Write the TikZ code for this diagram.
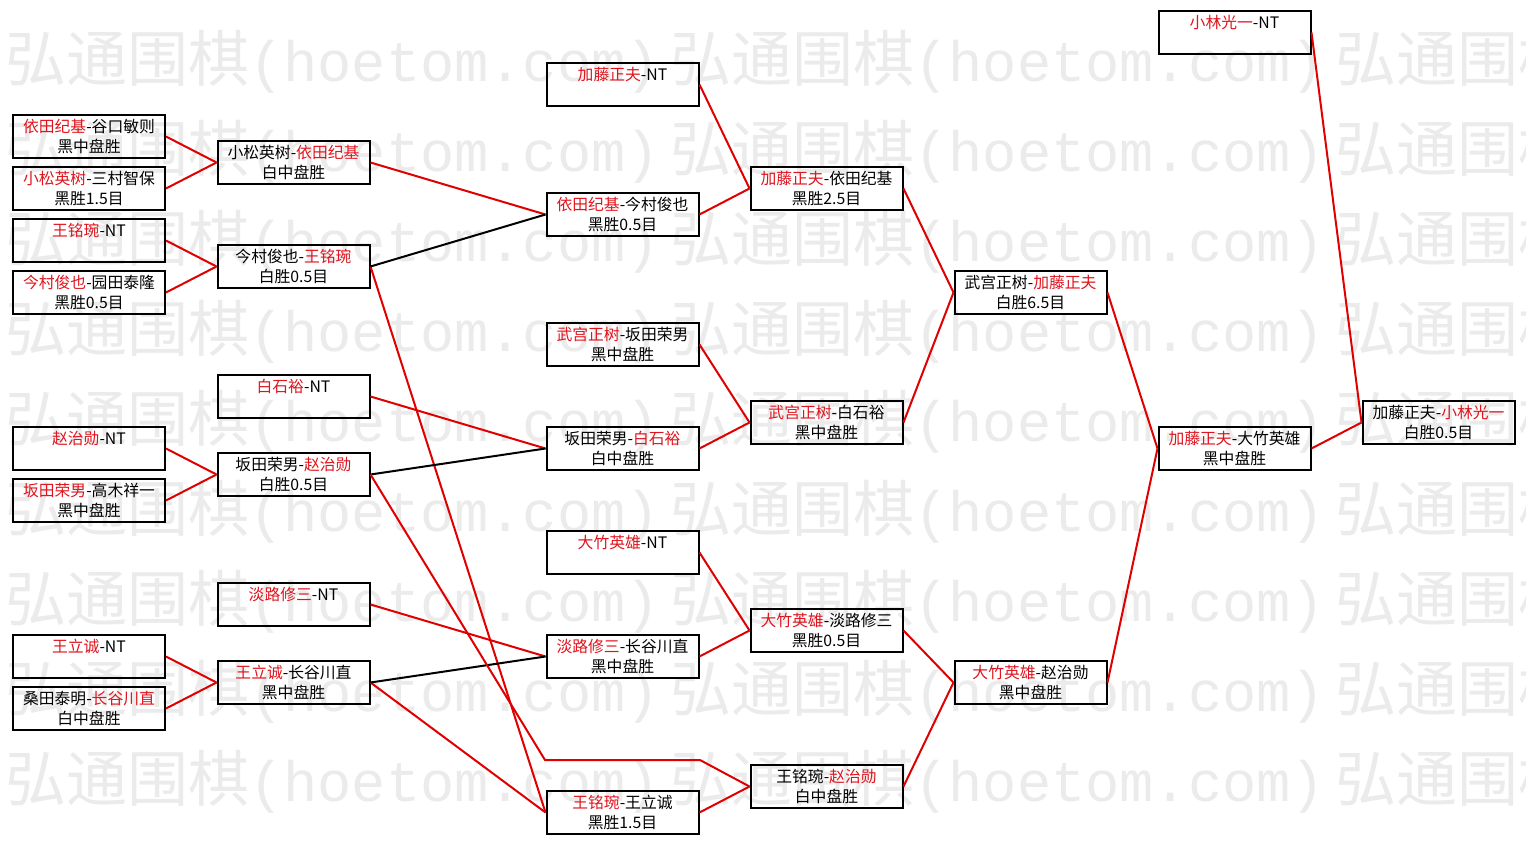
\documentclass[tikz,border=0pt]{standalone}
\usepackage{fontspec}
\setmainfont{Noto Sans CJK SC}
\newfontfamily\markmono{Liberation Mono}
\definecolor{Win}{HTML}{E0141E}
\definecolor{Line}{HTML}{E00000}
\definecolor{Mark}{HTML}{EBEBEB}
\newcommand{\wn}[1]{\textcolor{Win}{#1}}

\begin{document}
\begin{tikzpicture}[x=0.5pt,y=-0.5pt,
    game/.style={draw,line width=1pt,minimum width=76pt,minimum height=21.5pt,
      inner sep=0pt,align=center,font=\fontsize{7.9}{10}\selectfont},
    won/.style={draw=Line,line width=1pt},
    lost/.style={draw=black,line width=1pt}]
  \fill[white] (0,0) rectangle (1526,845);
  \useasboundingbox (0,0) rectangle (1526,845);
  % watermark
  \foreach \r in {0,...,8}
    \foreach \c in {0,1,2}
      \node[anchor=west,inner sep=0pt,text=Mark,font=\fontsize{30.5}{30.5}\selectfont]
        (wm-\r-\c) at (5+665*\c,62+90*\r)
        {弘通围棋\markmono\fontsize{28.5}{28.5}\selectfont(hoetom.com)};
  % games
  \foreach \n/\x/\y/\t in {
    a1/89/136.5/{\wn{依田纪基}-谷口敏则\\黑中盘胜},
    a2/89/188.5/{\wn{小松英树}-三村智保\\黑胜1.5目},
    a3/89/240.5/{\wn{王铭琬}-NT\\\phantom{黑}},
    a4/89/292.5/{\wn{今村俊也}-园田泰隆\\黑胜0.5目},
    a5/89/448.5/{\wn{赵治勋}-NT\\\phantom{黑}},
    a6/89/500.5/{\wn{坂田荣男}-高木祥一\\黑中盘胜},
    a7/89/656.5/{\wn{王立诚}-NT\\\phantom{黑}},
    a8/89/708.5/{桑田泰明-\wn{长谷川直}\\白中盘胜},
    b1/293.5/162.5/{小松英树-\wn{依田纪基}\\白中盘胜},
    b2/293.5/266.5/{今村俊也-\wn{王铭琬}\\白胜0.5目},
    b3/293.5/396.5/{\wn{白石裕}-NT\\\phantom{黑}},
    b4/293.5/474.5/{坂田荣男-\wn{赵治勋}\\白胜0.5目},
    b5/293.5/604.5/{\wn{淡路修三}-NT\\\phantom{黑}},
    b6/293.5/682.5/{\wn{王立诚}-长谷川直\\黑中盘胜},
    c1/622.5/84.5/{\wn{加藤正夫}-NT\\\phantom{黑}},
    c2/622.5/214.5/{\wn{依田纪基}-今村俊也\\黑胜0.5目},
    c3/622.5/344.5/{\wn{武宫正树}-坂田荣男\\黑中盘胜},
    c4/622.5/448.5/{坂田荣男-\wn{白石裕}\\白中盘胜},
    c5/622.5/552.5/{\wn{大竹英雄}-NT\\\phantom{黑}},
    c6/622.5/656.5/{\wn{淡路修三}-长谷川直\\黑中盘胜},
    c7/622.5/812.5/{\wn{王铭琬}-王立诚\\黑胜1.5目},
    d1/826.5/188.5/{\wn{加藤正夫}-依田纪基\\黑胜2.5目},
    d2/826.5/422.5/{\wn{武宫正树}-白石裕\\黑中盘胜},
    d3/826.5/630.5/{\wn{大竹英雄}-淡路修三\\黑胜0.5目},
    d4/826.5/786.5/{王铭琬-\wn{赵治勋}\\白中盘胜},
    e1/1030.5/292.5/{武宫正树-\wn{加藤正夫}\\白胜6.5目},
    e2/1030.5/682.5/{\wn{大竹英雄}-赵治勋\\黑中盘胜},
    f1/1234.5/32.5/{\wn{小林光一}-NT\\\phantom{黑}},
    f2/1234.5/448.5/{\wn{加藤正夫}-大竹英雄\\黑中盘胜},
    g1/1438.5/422.5/{加藤正夫-\wn{小林光一}\\白胜0.5目}}
    \node[game] (\n) at (\x,\y) {\t};
  % winners move on
  \foreach \a/\b in {a1/b1,a2/b1,a3/b2,a4/b2,a5/b4,a6/b4,a7/b6,a8/b6,
    b1/c2,b2/c7,b3/c4,b5/c6,b6/c7,
    c1/d1,c2/d1,c3/d2,c4/d2,c5/d3,c6/d3,c7/d4,
    d1/e1,d2/e1,d3/e2,d4/e2,e1/f2,e2/f2,f1/g1,f2/g1}
    \draw[won] (\a.east) -- (\b.west);
  % losers drop down
  \foreach \a/\b in {b2/c2,b4/c4,b6/c6}
    \draw[lost] (\a.east) -- (\b.west);
  \coordinate (bend1) at (545,760);
  \coordinate (bend2) at (700,760);
  \draw[won] (b4.east) -- (bend1) -- (bend2) -- (d4.west);
\end{tikzpicture}
\end{document}
